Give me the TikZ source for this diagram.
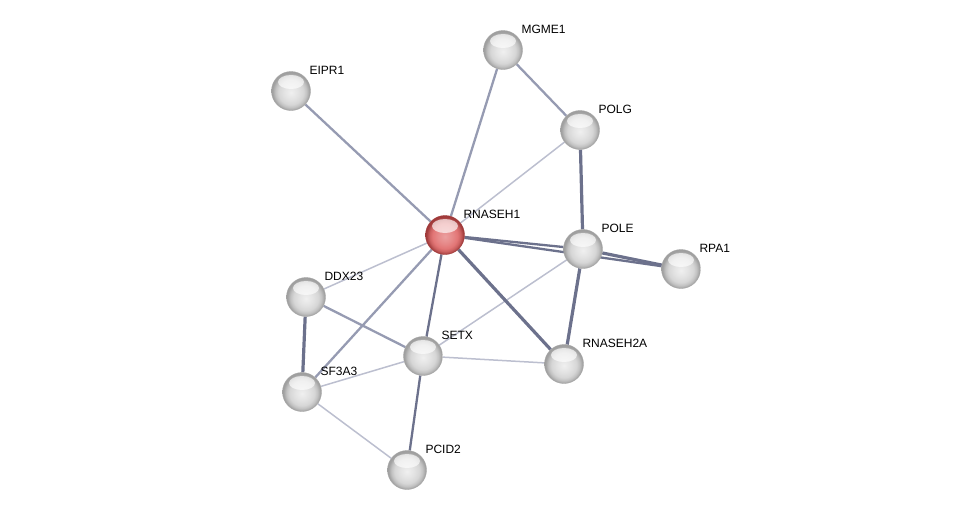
\documentclass[tikz,border=0pt]{standalone}
\usepackage{fontspec}
\setsansfont{Liberation Sans}
\usepackage{tikz}
\usetikzlibrary{shadings,backgrounds}

\definecolor{edgelight}{RGB}{188,191,207}
\definecolor{edgemid}{RGB}{150,155,178}
\definecolor{edgedark}{RGB}{108,113,140}
\definecolor{redbody}{RGB}{226,118,118}
\definecolor{redrim}{RGB}{160,58,58}

% sphere body, glare is added on top
\pgfdeclareradialshading{greysphere}{\pgfpoint{0bp}{-2bp}}{color(0bp)=(gray!12); color(9bp)=(gray!22); color(16bp)=(gray!32); color(20bp)=(gray!48); color(24bp)=(gray!75); color(50bp)=(gray!75)}
\pgfdeclareradialshading{redsphere}{\pgfpoint{0bp}{-2bp}}{color(0bp)=(redbody!70!white); color(9bp)=(redbody!85!white); color(16bp)=(redbody); color(20bp)=(redbody!65!redrim); color(24bp)=(redrim); color(50bp)=(redrim)}

\tikzset{
	glare/.style={path picture={
		\fill[white,opacity=0.65,shift={(path picture bounding box.center)}] (0,-9) ellipse (13 and 7);}},
	prot/.style={circle,minimum size=39pt,inner sep=0pt,shading=greysphere,draw=gray!70,line width=0.4pt,glare,
		label={[lbl]45:#1}},
	query/.style={prot=#1,shading=redsphere,draw=redrim},
	lbl/.style={anchor=south west,inner sep=1pt,label distance=2pt,xshift=2pt,font=\sffamily\fontsize{12}{14}\selectfont},
	weak/.style={draw=edgelight,line width=1.5pt},
	medium/.style={draw=edgemid,line width=2.3pt},
	strong/.style={draw=edgedark,line width=3.2pt}
}

\begin{document}
\begin{tikzpicture}[x=1pt,y=-1pt]
	\useasboundingbox (0,0) rectangle (976,515);
	\node[query=RNASEH1] (rnaseh1) at (445,235) {};
	\node[prot=MGME1] (mgme1) at (503,50) {};
	\node[prot=EIPR1] (eipr1) at (291,91) {};
	\node[prot=POLG] (polg) at (580,130) {};
	\node[prot=POLE] (pole) at (583,249) {};
	\node[prot=RPA1] (rpa1) at (681,269) {};
	\node[prot=DDX23] (ddx23) at (306,297) {};
	\node[prot=SETX] (setx) at (423,356) {};
	\node[prot=RNASEH2A] (rnaseh2a) at (564,364) {};
	\node[prot=SF3A3] (sf3a3) at (302,392) {};
	\node[prot=PCID2] (pcid2) at (407,470) {};
	\begin{scope}[on background layer]
		\foreach \a/\b in {rnaseh1/polg, rnaseh1/ddx23, setx/pole, setx/sf3a3, setx/rnaseh2a, sf3a3/pcid2}
			\draw[weak] (\a) -- (\b);
		\foreach \a/\b in {rnaseh1/eipr1, rnaseh1/mgme1, mgme1/polg, rnaseh1/sf3a3, ddx23/setx}
			\draw[medium] (\a) -- (\b);
		\foreach \a/\b in {rnaseh1/pole, rnaseh1/rpa1, rnaseh1/setx, setx/pcid2}
			\draw[medium,draw=edgedark] (\a) -- (\b);
		\foreach \a/\b in {polg/pole, pole/rpa1, pole/rnaseh2a, rnaseh1/rnaseh2a, ddx23/sf3a3}
			\draw[strong] (\a) -- (\b);
	\end{scope}
\end{tikzpicture}
\end{document}
